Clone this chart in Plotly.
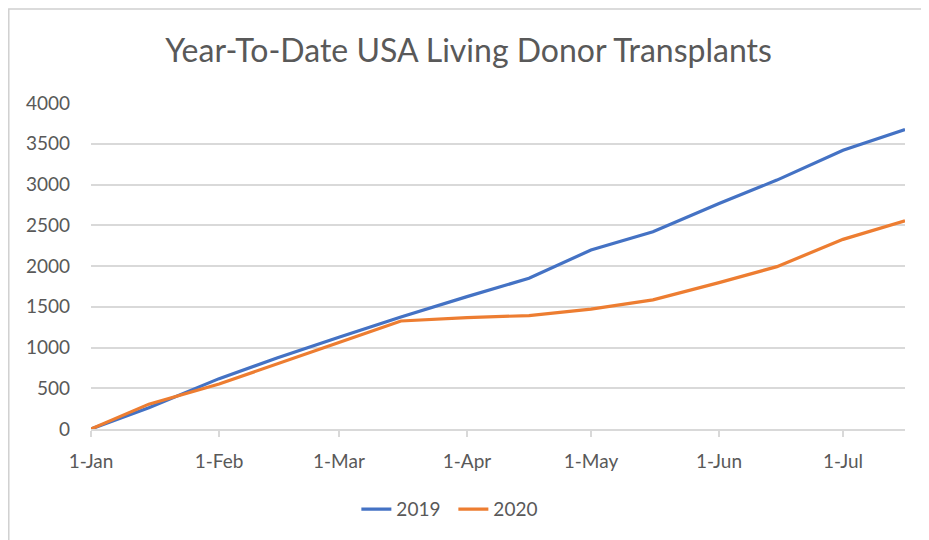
import plotly.graph_objects as go

dates = ["2020-01-01", "2020-01-15", "2020-02-01", "2020-02-15", "2020-03-01", "2020-03-16",
         "2020-04-01", "2020-04-16", "2020-05-01", "2020-05-16", "2020-06-01", "2020-06-15",
         "2020-07-01", "2020-07-16"]
y2019 = [0, 260, 618, 870, 1125, 1373, 1624, 1850, 2196, 2421, 2768, 3054, 3421, 3675]
y2020 = [0, 305, 552, 802, 1062, 1325, 1367, 1392, 1470, 1584, 1796, 1992, 2327, 2555]
tick_dates = ["2020-01-01", "2020-02-01", "2020-03-01", "2020-04-01", "2020-05-01", "2020-06-01", "2020-07-01"]
tick_labels = ["1-Jan", "1-Feb", "1-Mar", "1-Apr", "1-May", "1-Jun", "1-Jul"]
title = "Year-To-Date USA Living Donor Transplants"

TXT = "#595959"
GRID = "#D9D9D9"
FONT = "Lato"

fig = go.Figure()
fig.add_trace(go.Scatter(x=dates, y=y2019, mode="lines", name="2019",
                         line=dict(color="#4472C4", width=3.2)))
fig.add_trace(go.Scatter(x=dates, y=y2020, mode="lines", name="2020",
                         line=dict(color="#ED7D31", width=3.2)))

fig.update_layout(
    width=929, height=540,
    margin=dict(l=83, r=32, t=95, b=119),
    paper_bgcolor="white", plot_bgcolor="white",
    font=dict(family=FONT, color=TXT, size=19),
    title=dict(text=title, x=0.4638, xref="paper", xanchor="center", y=0.92, yanchor="middle",
               font=dict(family=FONT, size=32, color=TXT)),
    showlegend=True,
    legend=dict(orientation="h", x=0.326, xanchor="left", y=-0.246, yanchor="middle",
                font=dict(family=FONT, size=19, color=TXT), entrywidth=52, entrywidthmode="pixels",
                itemwidth=30, bgcolor="rgba(0,0,0,0)"),
    shapes=[dict(type="rect", xref="paper", yref="paper", x0=-0.101, x1=1.05, y0=-0.40, y1=1.288,
                 line=dict(color="#D0D0D0", width=1.5), fillcolor="rgba(0,0,0,0)", layer="below")],
)
fig.update_xaxes(type="date", range=["2020-01-01", "2020-07-16"],
                 tickvals=tick_dates, ticktext=tick_labels,
                 showgrid=False, showline=True, linecolor=GRID, linewidth=1.5,
                 ticks="outside", ticklen=6, tickcolor=GRID, tickwidth=1.5,
                 ticklabelstandoff=8, tickfont=dict(family=FONT, size=19, color=TXT), zeroline=False)
fig.update_yaxes(range=[0, 4000], dtick=500, showgrid=True, gridcolor=GRID, gridwidth=1.5,
                 zeroline=False, showline=False, ticks="", ticklabelstandoff=20,
                 tickfont=dict(family=FONT, size=19, color=TXT))

fig.write_html("out.html")
